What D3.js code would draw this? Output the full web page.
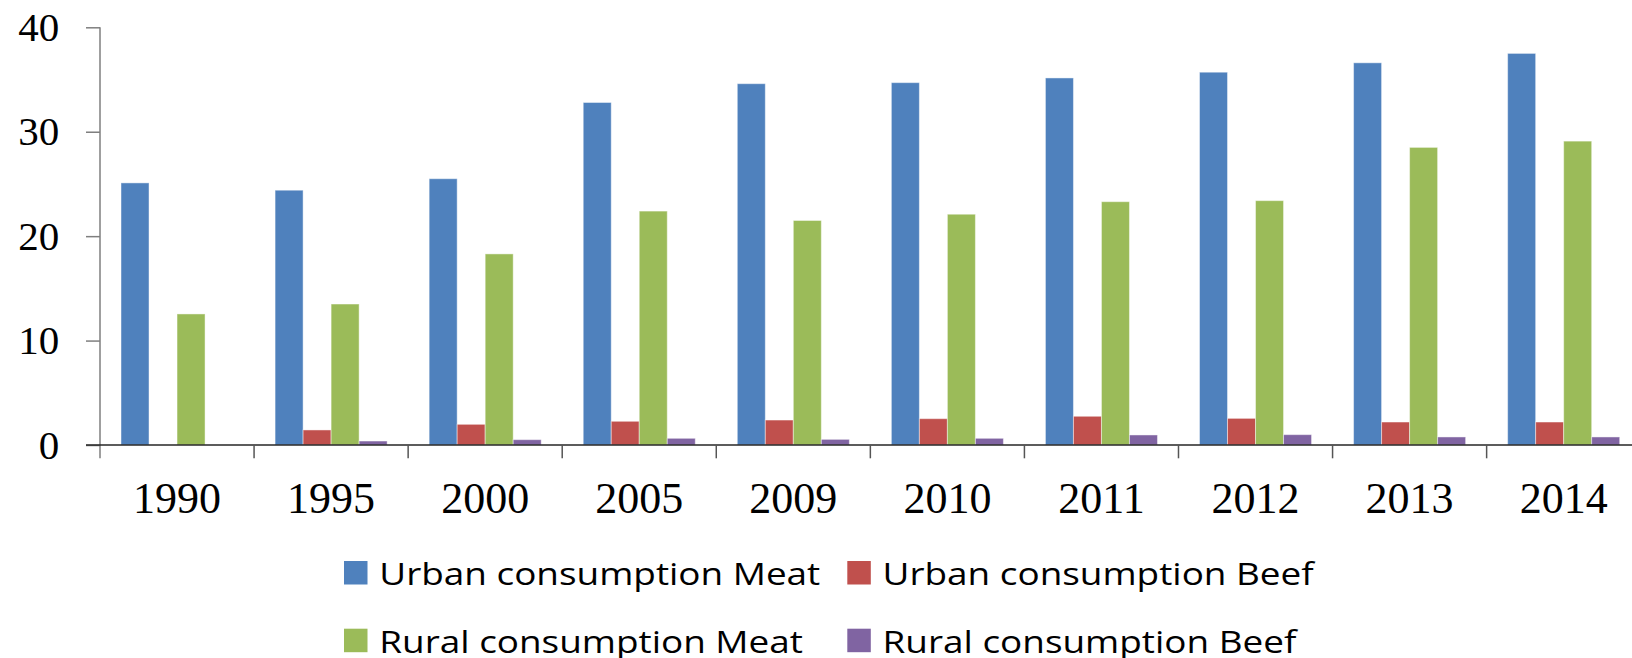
<!DOCTYPE html>
<html>
<head>
<meta charset="utf-8">
<script src="https://cdn.jsdelivr.net/npm/d3@7"></script>
<style>
  body { margin: 0; background: #fff; }
  svg { display: block; }
</style>
</head>
<body>
<div id="chart"></div>
<script>
var years = ['1990', '1995', '2000', '2005', '2009', '2010', '2011', '2012', '2013', '2014'];
var seriesNames = ['Urban consumption Meat', 'Urban consumption Beef', 'Rural consumption Meat', 'Rural consumption Beef'];
var urbanMeat = [25.1, 24.4, 25.5, 32.8, 34.6, 34.7, 35.15, 35.7, 36.6, 37.5];
var urbanBeef = [0, 1.44, 1.98, 2.27, 2.39, 2.52, 2.75, 2.55, 2.2, 2.2];
var ruralMeat = [12.55, 13.5, 18.3, 22.4, 21.5, 22.1, 23.3, 23.4, 28.5, 29.1];
var ruralBeef = [0, 0.38, 0.51, 0.64, 0.54, 0.64, 0.96, 0.99, 0.77, 0.77];
var yTicks = [0, 10, 20, 30, 40];

var colors = ['#4F81BD', '#C0504D', '#9BBB59', '#8064A2'];
var seriesValues = [urbanMeat, urbanBeef, ruralMeat, ruralBeef];

var width = 1632, height = 658;
var plotLeft = 100, plotTop = 27.3, plotBottom = 445;

var svg = d3.select('#chart')
    .append('svg')
    .attr('width', width)
    .attr('height', height);

// the plot runs on past the right edge of the picture, last group is cut off
var x0 = d3.scaleBand()
    .domain(years)
    .range([plotLeft, plotLeft + 154.07 * years.length])
    .padding(0);

var x1 = d3.scaleBand()
    .domain(seriesNames)
    .range([0, x0.bandwidth()])
    .paddingInner(0)
    .paddingOuter(0.75);

var y = d3.scaleLinear()
    .domain([0, 40])
    .range([plotBottom, plotTop]);

var color = d3.scaleOrdinal().domain(seriesNames).range(colors);

// bars
var groups = svg.append('g')
    .selectAll('g')
    .data(years)
    .enter()
    .append('g')
    .attr('transform', function (d) { return 'translate(' + x0(d) + ',0)'; });

groups.selectAll('rect')
    .data(function (d, i) {
        return seriesNames.map(function (s, j) { return { key: s, value: seriesValues[j][i] }; })
            .filter(function (e) { return e.value > 0; });
    })
    .enter()
    .append('rect')
    .attr('x', function (d) { return x1(d.key); })
    .attr('y', function (d) { return y(d.value); })
    .attr('width', x1.bandwidth())
    .attr('height', function (d) { return y(0) - y(d.value); })
    .attr('fill', function (d) { return color(d.key); })
    .attr('stroke', 'rgba(255,255,255,0.45)')
    .attr('stroke-width', 1);

// y axis
var yAxis = svg.append('g')
    .attr('transform', 'translate(' + plotLeft + ',0)')
    .call(d3.axisLeft(y).tickValues(yTicks).tickSize(14).tickPadding(26.7).tickFormat(d3.format('d')));
yAxis.select('.domain').remove();
yAxis.selectAll('.tick line').attr('stroke', '#7f7f7f').attr('stroke-width', 1.5);
yAxis.selectAll('text')
    .attr('fill', '#000')
    .style('font-family', '"Liberation Serif", "DejaVu Serif", serif')
    .style('font-size', '41px');

svg.append('line')
    .attr('x1', plotLeft).attr('x2', plotLeft)
    .attr('y1', y(40)).attr('y2', plotBottom + 13.3)
    .attr('stroke', '#7f7f7f')
    .attr('stroke-width', 1.5);

// x axis baseline, category boundary ticks and labels
svg.append('line')
    .attr('x1', plotLeft - 14).attr('x2', width)
    .attr('y1', plotBottom).attr('y2', plotBottom)
    .attr('stroke', '#262626')
    .attr('stroke-width', 1.5);

svg.append('g')
    .selectAll('line')
    .data(years.slice(1))
    .enter()
    .append('line')
    .attr('x1', function (d) { return x0(d); })
    .attr('x2', function (d) { return x0(d); })
    .attr('y1', plotBottom)
    .attr('y2', plotBottom + 13.3)
    .attr('stroke', '#555')
    .attr('stroke-width', 1.5);

svg.append('g')
    .selectAll('text')
    .data(years)
    .enter()
    .append('text')
    .attr('x', function (d) { return x0(d) + x0.bandwidth() / 2; })
    .attr('y', 513.3)
    .attr('text-anchor', 'middle')
    .style('font-family', '"Liberation Serif", "DejaVu Serif", serif')
    .style('font-size', '44px')
    .attr('fill', '#000')
    .text(function (d) { return d; });

// legend, two rows of two
var legend = svg.append('g')
    .selectAll('g')
    .data(seriesNames)
    .enter()
    .append('g')
    .attr('transform', function (d, i) {
        var lx = (i % 2 === 0) ? 344 : 847.3;
        var ly = (i < 2) ? 585 : 652.7;
        return 'translate(' + lx + ',' + ly + ')';
    });

legend.append('rect')
    .attr('x', 0)
    .attr('y', -24)
    .attr('width', 23.5)
    .attr('height', 23.5)
    .attr('fill', function (d) { return color(d); });

legend.append('text')
    .attr('transform', 'translate(35.3,0) scale(1.19,1)')
    .style('font-family', '"Open Sans", "Noto Sans", sans-serif')
    .style('font-size', '31px')
    .attr('fill', '#000')
    .text(function (d) { return d; });
</script>
</body>
</html>
